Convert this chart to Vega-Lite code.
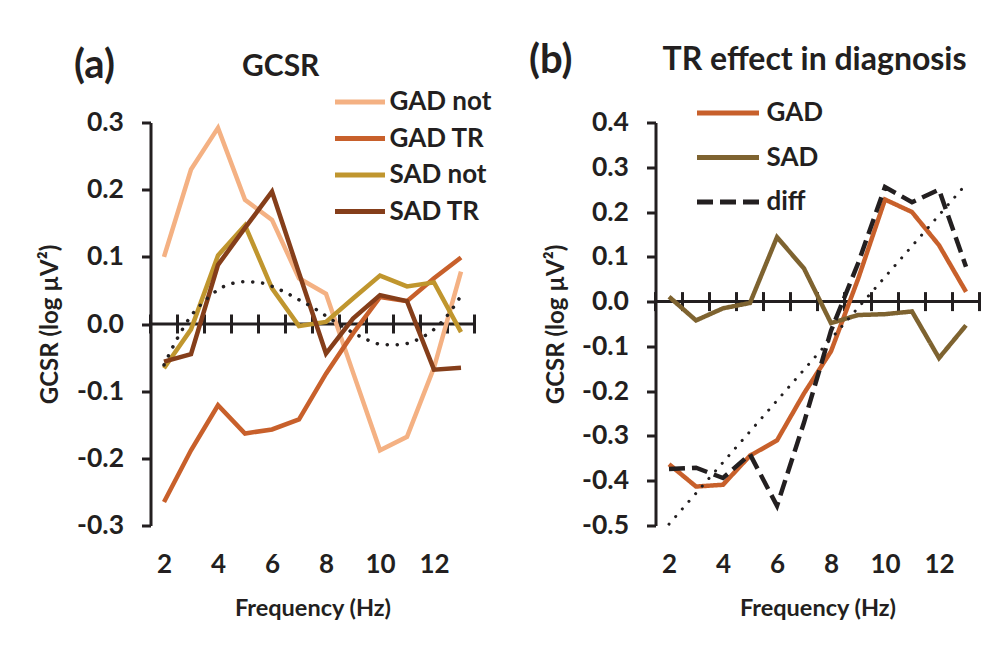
{
  "$schema": "https://vega.github.io/schema/vega-lite/v6.json",
  "padding": {"left": 38.5, "top": 40.5, "right": 0, "bottom": 0},
  "config": {
    "font": "Lato",
    "view": {"stroke": null},
    "title": {"font": "Lato", "fontWeight": "bold", "color": "#231F20"},
    "axis": {"labelFont": "Lato", "titleFont": "Lato", "labelFontWeight": "bold", "titleFontWeight": "bold", "labelColor": "#231F20", "titleColor": "#231F20", "grid": false, "domainColor": "#231F20", "tickColor": "#231F20", "domainWidth": 3, "tickWidth": 3},
    "legend": {"labelFont": "Lato", "labelFontWeight": "bold", "labelColor": "#231F20"}
  },
  "resolve": {"scale": {"color": "independent", "strokeDash": "independent"}, "legend": {"color": "independent", "strokeDash": "independent"}},
  "datasets": {
    "a": [
      {"f": 2, "series": "GAD not", "v": 0.10}, {"f": 3, "series": "GAD not", "v": 0.23}, {"f": 4, "series": "GAD not", "v": 0.292}, {"f": 5, "series": "GAD not", "v": 0.185}, {"f": 6, "series": "GAD not", "v": 0.155}, {"f": 7, "series": "GAD not", "v": 0.068}, {"f": 8, "series": "GAD not", "v": 0.045}, {"f": 9, "series": "GAD not", "v": -0.072}, {"f": 10, "series": "GAD not", "v": -0.188}, {"f": 11, "series": "GAD not", "v": -0.168}, {"f": 12, "series": "GAD not", "v": -0.065}, {"f": 13, "series": "GAD not", "v": 0.078},
      {"f": 2, "series": "GAD TR", "v": -0.265}, {"f": 3, "series": "GAD TR", "v": -0.188}, {"f": 4, "series": "GAD TR", "v": -0.121}, {"f": 5, "series": "GAD TR", "v": -0.163}, {"f": 6, "series": "GAD TR", "v": -0.157}, {"f": 7, "series": "GAD TR", "v": -0.142}, {"f": 8, "series": "GAD TR", "v": -0.074}, {"f": 9, "series": "GAD TR", "v": -0.014}, {"f": 10, "series": "GAD TR", "v": 0.04}, {"f": 11, "series": "GAD TR", "v": 0.034}, {"f": 12, "series": "GAD TR", "v": 0.068}, {"f": 13, "series": "GAD TR", "v": 0.099},
      {"f": 2, "series": "SAD not", "v": -0.066}, {"f": 3, "series": "SAD not", "v": -0.008}, {"f": 4, "series": "SAD not", "v": 0.102}, {"f": 5, "series": "SAD not", "v": 0.147}, {"f": 6, "series": "SAD not", "v": 0.053}, {"f": 7, "series": "SAD not", "v": -0.003}, {"f": 8, "series": "SAD not", "v": 0.003}, {"f": 9, "series": "SAD not", "v": 0.038}, {"f": 10, "series": "SAD not", "v": 0.072}, {"f": 11, "series": "SAD not", "v": 0.056}, {"f": 12, "series": "SAD not", "v": 0.062}, {"f": 13, "series": "SAD not", "v": -0.012},
      {"f": 2, "series": "SAD TR", "v": -0.056}, {"f": 3, "series": "SAD TR", "v": -0.045}, {"f": 4, "series": "SAD TR", "v": 0.088}, {"f": 5, "series": "SAD TR", "v": 0.143}, {"f": 6, "series": "SAD TR", "v": 0.197}, {"f": 7, "series": "SAD TR", "v": 0.076}, {"f": 8, "series": "SAD TR", "v": -0.044}, {"f": 9, "series": "SAD TR", "v": 0.008}, {"f": 10, "series": "SAD TR", "v": 0.043}, {"f": 11, "series": "SAD TR", "v": 0.034}, {"f": 12, "series": "SAD TR", "v": -0.068}, {"f": 13, "series": "SAD TR", "v": -0.065}
    ],
    "trendA": [
      {"f": 2, "v": -0.061}, {"f": 2.5, "v": -0.021}, {"f": 3, "v": 0.012}, {"f": 3.5, "v": 0.034}, {"f": 4, "v": 0.051}, {"f": 4.5, "v": 0.060}, {"f": 5, "v": 0.063}, {"f": 5.5, "v": 0.062}, {"f": 6, "v": 0.056}, {"f": 6.5, "v": 0.047}, {"f": 7, "v": 0.036}, {"f": 7.5, "v": 0.025}, {"f": 8, "v": 0.012}, {"f": 8.5, "v": -0.001}, {"f": 9, "v": -0.013}, {"f": 9.5, "v": -0.023}, {"f": 10, "v": -0.030}, {"f": 10.5, "v": -0.031}, {"f": 11, "v": -0.029}, {"f": 11.5, "v": -0.021}, {"f": 12, "v": -0.008}, {"f": 12.5, "v": 0.013}, {"f": 13, "v": 0.042}
    ],
    "b": [
      {"f": 2, "series": "GAD", "v": -0.363}, {"f": 3, "series": "GAD", "v": -0.413}, {"f": 4, "series": "GAD", "v": -0.409}, {"f": 5, "series": "GAD", "v": -0.344}, {"f": 6, "series": "GAD", "v": -0.31}, {"f": 7, "series": "GAD", "v": -0.205}, {"f": 8, "series": "GAD", "v": -0.111}, {"f": 9, "series": "GAD", "v": 0.05}, {"f": 10, "series": "GAD", "v": 0.228}, {"f": 11, "series": "GAD", "v": 0.2}, {"f": 12, "series": "GAD", "v": 0.126}, {"f": 13, "series": "GAD", "v": 0.022},
      {"f": 2, "series": "SAD", "v": 0.011}, {"f": 3, "series": "SAD", "v": -0.042}, {"f": 4, "series": "SAD", "v": -0.015}, {"f": 5, "series": "SAD", "v": -0.003}, {"f": 6, "series": "SAD", "v": 0.144}, {"f": 7, "series": "SAD", "v": 0.074}, {"f": 8, "series": "SAD", "v": -0.048}, {"f": 9, "series": "SAD", "v": -0.03}, {"f": 10, "series": "SAD", "v": -0.028}, {"f": 11, "series": "SAD", "v": -0.022}, {"f": 12, "series": "SAD", "v": -0.126}, {"f": 13, "series": "SAD", "v": -0.053},
      {"f": 2, "series": "diff", "v": -0.374}, {"f": 3, "series": "diff", "v": -0.371}, {"f": 4, "series": "diff", "v": -0.394}, {"f": 5, "series": "diff", "v": -0.341}, {"f": 6, "series": "diff", "v": -0.456}, {"f": 7, "series": "diff", "v": -0.27}, {"f": 8, "series": "diff", "v": -0.065}, {"f": 9, "series": "diff", "v": 0.085}, {"f": 10, "series": "diff", "v": 0.256}, {"f": 11, "series": "diff", "v": 0.222}, {"f": 12, "series": "diff", "v": 0.25}, {"f": 13, "series": "diff", "v": 0.078}
    ],
    "trendB": [{"f": 2, "v": -0.497}, {"f": 13, "v": 0.262}],
    "edges": [{"f": 1.5}, {"f": 2.5}, {"f": 3.5}, {"f": 4.5}, {"f": 5.5}, {"f": 6.5}, {"f": 7.5}, {"f": 8.5}, {"f": 9.5}, {"f": 10.5}, {"f": 11.5}, {"f": 12.5}, {"f": 13.5}]
  },
  "spacing": 36,
  "hconcat": [
    {
      "title": {"text": "(a)", "anchor": "start", "fontSize": 40, "dx": 35.5, "dy": 38},
      "vconcat": [
        {
          "width": 324,
          "height": 403,
          "title": {"text": "GCSR", "anchor": "start", "frame": "group", "fontSize": 30, "dx": 91.5, "offset": 28},
          "layer": [
            {
              "data": {"name": "edges"},
              "mark": {"type": "rule", "color": "#231F20", "strokeWidth": 3},
              "encoding": {
                "x": {"aggregate": "min", "field": "f", "type": "quantitative", "scale": {"domain": [1.5, 13.5], "nice": false, "zero": false}},
                "x2": {"aggregate": "max", "field": "f"},
                "y": {"datum": 0, "type": "quantitative", "scale": {"domain": [-0.3, 0.3], "nice": false, "zero": false}}
              }
            },
            {
              "data": {"name": "edges"},
              "mark": {"type": "tick", "orient": "vertical", "color": "#231F20", "opacity": 1, "size": 19, "thickness": 3},
              "encoding": {
                "x": {"field": "f", "type": "quantitative"},
                "y": {"datum": 0, "type": "quantitative"}
              }
            },
            {
              "data": {"name": "a"},
              "mark": {"type": "line", "strokeWidth": 4.5},
              "encoding": {
                "x": {"field": "f", "type": "quantitative",
                  "axis": {"values": [2, 4, 6, 8, 10, 12], "domain": false, "ticks": false, "labelFontSize": 26, "labelPadding": 26, "title": "Frequency (Hz)", "titleFontSize": 23.5, "titlePadding": 19}},
                "y": {"field": "v", "type": "quantitative",
                  "axis": {"values": [-0.3, -0.2, -0.1, 0, 0.1, 0.2, 0.3], "labelExpr": "replace(format(datum.value, '.1f'), '\u2212', '-')", "tickSize": 9, "labelFontSize": 26.5, "labelPadding": 18, "title": "GCSR (log µV²)", "titleFontSize": 24, "titlePadding": 14}},
                "color": {"field": "series", "type": "nominal",
                  "scale": {"domain": ["GAD not", "GAD TR", "SAD not", "SAD TR"], "range": ["#F4B183", "#C8602B", "#C0962E", "#853E1A"]},
                  "legend": {"orient": "none", "legendX": 196.5, "legendY": -33.5, "title": null, "symbolType": "M-2.5,0H2.5", "symbolSize": 400, "symbolStrokeWidth": 5, "labelFontSize": 26, "labelOffset": 16.5, "rowPadding": 10.5, "padding": 0}}
              }
            },
            {
              "data": {"name": "trendA"},
              "mark": {"type": "line", "interpolate": "monotone", "color": "#231F20", "strokeWidth": 3.5, "strokeDash": [0.1, 9.9], "strokeCap": "round"},
              "encoding": {
                "x": {"field": "f", "type": "quantitative"},
                "y": {"field": "v", "type": "quantitative"}
              }
            }
          ]
        }
      ]
    },
    {
      "title": {"text": "(b)", "anchor": "start", "fontSize": 40, "dx": -15.5, "dy": 41.5},
      "vconcat": [
        {
          "width": 324,
          "height": 403,
          "title": {"text": "TR effect in diagnosis", "anchor": "start", "frame": "group", "fontSize": 32, "dx": 7, "offset": 33},
          "layer": [
            {
              "data": {"name": "edges"},
              "mark": {"type": "rule", "color": "#231F20", "strokeWidth": 3},
              "encoding": {
                "x": {"aggregate": "min", "field": "f", "type": "quantitative", "scale": {"domain": [1.5, 13.5], "nice": false, "zero": false}},
                "x2": {"aggregate": "max", "field": "f"},
                "y": {"datum": 0, "type": "quantitative", "scale": {"domain": [-0.5, 0.4], "nice": false, "zero": false}}
              }
            },
            {
              "data": {"name": "edges"},
              "mark": {"type": "tick", "orient": "vertical", "color": "#231F20", "opacity": 1, "size": 19, "thickness": 3},
              "encoding": {
                "x": {"field": "f", "type": "quantitative"},
                "y": {"datum": 0, "type": "quantitative"}
              }
            },
            {
              "data": {"name": "b"},
              "mark": {"type": "line", "strokeWidth": 4.5},
              "encoding": {
                "x": {"field": "f", "type": "quantitative",
                  "axis": {"values": [2, 4, 6, 8, 10, 12], "domain": false, "ticks": false, "labelFontSize": 26, "labelPadding": 26, "title": "Frequency (Hz)", "titleFontSize": 23.5, "titlePadding": 19}},
                "y": {"field": "v", "type": "quantitative",
                  "axis": {"values": [-0.5, -0.4, -0.3, -0.2, -0.1, 0, 0.1, 0.2, 0.3, 0.4], "labelExpr": "replace(format(datum.value, '.1f'), '\u2212', '-')", "tickSize": 9, "labelFontSize": 26.5, "labelPadding": 18, "title": "GCSR (log µV²)", "titleFontSize": 24, "titlePadding": 13}},
                "color": {"field": "series", "type": "nominal",
                  "scale": {"domain": ["GAD", "SAD", "diff"], "range": ["#C8602B", "#7E6330", "#231F20"]},
                  "legend": {"orient": "none", "legendX": 59.5, "legendY": -22.5, "title": null, "symbolType": "M-3.1,0H3.1", "symbolSize": 400, "symbolStrokeWidth": 5, "labelFontSize": 26, "labelOffset": 25.5, "rowPadding": 18.5, "padding": 0}},
                "strokeDash": {"field": "series", "type": "nominal",
                  "scale": {"domain": ["GAD", "SAD", "diff"], "range": [[1, 0], [1, 0], [16, 7]]},
                  "legend": {"orient": "none", "legendX": 59.5, "legendY": -22.5, "title": null, "symbolType": "M-3.1,0H3.1", "symbolSize": 400, "symbolStrokeWidth": 5, "labelFontSize": 26, "labelOffset": 25.5, "rowPadding": 18.5, "padding": 0}}
              }
            },
            {
              "data": {"name": "trendB"},
              "mark": {"type": "line", "color": "#231F20", "strokeWidth": 3, "strokeDash": [0.1, 10], "strokeCap": "round"},
              "encoding": {
                "x": {"field": "f", "type": "quantitative"},
                "y": {"field": "v", "type": "quantitative"}
              }
            }
          ]
        }
      ]
    }
  ]
}
